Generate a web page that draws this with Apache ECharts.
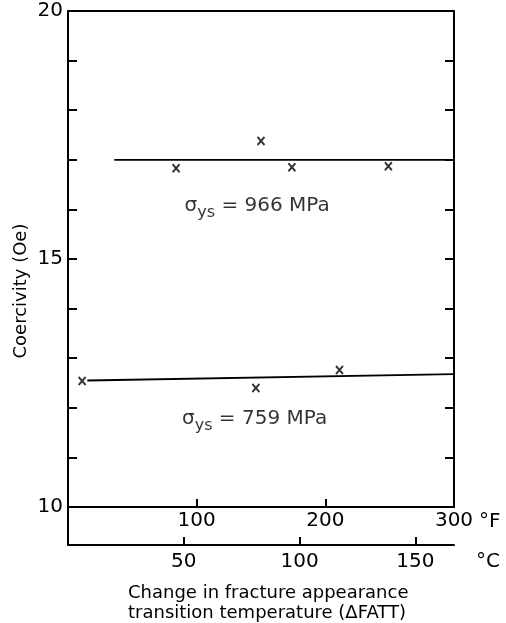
<!DOCTYPE html>
<html>
<head>
<meta charset="utf-8">
<script src="https://cdn.jsdelivr.net/npm/echarts@6/dist/echarts.min.js"></script>
<style>
  html, body { margin: 0; padding: 0; background: #fff; }
  #chart { width: 506px; height: 623px; }
</style>
</head>
<body>
<div id="chart"></div>
<script>
// data (x in deg F of delta FATT, y coercivity in Oe)
var highF = [84, 150, 174, 249];
var highOe = [16.83, 17.38, 16.85, 16.87];
var lowF = [11, 146, 211];
var lowOe = [12.54, 12.40, 12.76];
var highFitF = [36, 300];
var highFitOe = [17.0, 17.0];
var lowFitF = [15, 300];
var lowFitOe = [12.55, 12.68];
var fTicks = [100, 200, 300];
var cTicks = [50, 100, 150];
var yTicks = [10, 15, 20];

function pairs(xs, ys) {
  return xs.map(function (x, i) { return [x, ys[i]]; });
}

var font = 'DejaVu Sans';
var ink = '#000';
var axisLine = { show: true, onZero: false, lineStyle: { color: ink, width: 2 } };

var chart = echarts.init(document.getElementById('chart'));

var sigmaRich = {
  s: { fontFamily: font, fontSize: 20, color: ink },
  sub: { fontFamily: font, fontSize: 16, color: ink, padding: [13, 0, 0, 0] },
  n: { fontFamily: font, fontSize: 20, color: ink }
};

var xMark = 'path://M0 0L10 10M10 0L0 10';

chart.setOption({
  animation: false,
  title: {
    text: 'Change in fracture appearance\ntransition temperature (\u0394FATT)',
    left: 123,
    top: 578,
    textStyle: { fontFamily: font, fontSize: 18, fontWeight: 'normal', color: ink, lineHeight: 20 }
  },
  grid: [
    { left: 68, right: 52, top: 11, height: 496 },
    { left: 68, right: 52, top: 507, height: 38 }
  ],
  xAxis: [
    {
      type: 'value', gridIndex: 0, position: 'bottom', min: 0, max: 300, interval: 100,
      axisLine: axisLine,
      axisTick: { show: true, inside: true, length: 8, customValues: [100, 200], lineStyle: { color: ink, width: 2 } },
      axisLabel: { customValues: fTicks, margin: 4, fontFamily: font, fontSize: 20, color: ink },
      splitLine: { show: false },
      name: '\u00b0F', nameLocation: 'end', nameGap: 16,
      nameTextStyle: { fontFamily: font, fontSize: 20, color: ink, verticalAlign: 'top', padding: [5, 0, 0, 0] }
    },
    {
      type: 'value', gridIndex: 0, position: 'top', min: 0, max: 300,
      axisLine: axisLine, axisTick: { show: false }, axisLabel: { show: false }, splitLine: { show: false }
    },
    {
      type: 'value', gridIndex: 1, position: 'bottom', min: 0, max: 300 / 1.8, interval: 50,
      axisLine: axisLine,
      axisTick: { show: true, inside: true, length: 8, customValues: cTicks, lineStyle: { color: ink, width: 2 } },
      axisLabel: { customValues: cTicks, margin: 7, fontFamily: font, fontSize: 20, color: ink },
      splitLine: { show: false },
      name: '\u00b0C', nameLocation: 'end', nameGap: 22,
      nameTextStyle: { fontFamily: font, fontSize: 20, color: ink, verticalAlign: 'top', padding: [7, 0, 0, 0] }
    }
  ],
  yAxis: [
    {
      type: 'value', gridIndex: 0, position: 'left', min: 10, max: 20, interval: 1,
      axisLine: axisLine,
      axisTick: { show: true, inside: true, length: 9, lineStyle: { color: ink, width: 2 } },
      axisLabel: { customValues: yTicks, margin: 5, fontFamily: font, fontSize: 20, color: ink },
      splitLine: { show: false }
    },
    {
      type: 'value', gridIndex: 0, position: 'right', min: 10, max: 20, interval: 1,
      axisLine: axisLine,
      axisTick: { show: true, inside: true, length: 9, lineStyle: { color: ink, width: 2 } },
      axisLabel: { show: false },
      splitLine: { show: false }
    },
    {
      type: 'value', gridIndex: 1, position: 'left', min: 0, max: 1,
      axisLine: axisLine, axisTick: { show: false }, axisLabel: { show: false }, splitLine: { show: false }
    }
  ],
  graphic: [
    {
      type: 'text', x: 21, y: 291, rotation: Math.PI / 2,
      style: { text: 'Coercivity (Oe)', fontFamily: font, fontSize: 18, fill: ink, align: 'center', verticalAlign: 'middle' }
    }
  ],
  series: [
    {
      type: 'line', xAxisIndex: 0, yAxisIndex: 0, data: pairs(highFitF, highFitOe),
      symbol: 'none', lineStyle: { color: ink, width: 1.8 }, silent: true
    },
    {
      type: 'line', xAxisIndex: 0, yAxisIndex: 0, data: pairs(lowFitF, lowFitOe),
      symbol: 'none', lineStyle: { color: ink, width: 1.8 }, silent: true
    },
    {
      type: 'scatter', xAxisIndex: 0, yAxisIndex: 0, data: pairs(highF, highOe),
      symbol: xMark, symbolSize: [7, 8],
      itemStyle: { color: ink, borderColor: ink, borderWidth: 2 }
    },
    {
      type: 'scatter', xAxisIndex: 0, yAxisIndex: 0, data: pairs(lowF, lowOe),
      symbol: xMark, symbolSize: [7, 8],
      itemStyle: { color: ink, borderColor: ink, borderWidth: 2 }
    },
    {
      type: 'scatter', xAxisIndex: 0, yAxisIndex: 0, symbolSize: 0, silent: true,
      data: [
        { value: [147, 16.07], label: { formatter: '{s|\u03c3}{sub|ys}{n| = 966 MPa}' } },
        { value: [145, 11.77], label: { formatter: '{s|\u03c3}{sub|ys}{n| = 759 MPa}' } }
      ],
      label: { show: true, position: 'inside', color: ink, rich: sigmaRich }
    }
  ]
});
</script>
</body>
</html>
